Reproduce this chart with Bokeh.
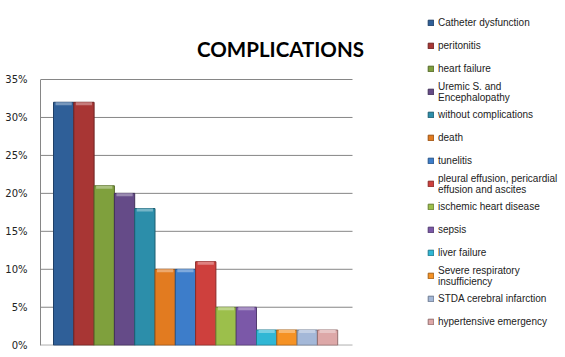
from bokeh.plotting import figure
from bokeh.models import (ColumnDataSource, Range1d, Legend, LegendItem, Label,
                          NumeralTickFormatter, FixedTicker)
from bokeh.embed import file_html
from bokeh.resources import INLINE

# ---- data ----
categories = [
    "Catheter dysfunction",
    "peritonitis",
    "heart failure",
    "Uremic S. and\nEncephalopathy",
    "without complications",
    "death",
    "tunelitis",
    "pleural effusion, pericardial\neffusion and ascites",
    "ischemic heart disease",
    "sepsis",
    "liver failure",
    "Severe respiratory\ninsufficiency",
    "STDA cerebral infarction",
    "hypertensive emergency",
]
values_pct = [32, 32, 21, 20, 18, 10, 10, 11, 5, 5, 2, 2, 2, 2]
y_tick_pct = [0, 5, 10, 15, 20, 25, 30, 35]
chart_title = "COMPLICATIONS"

# ---- styles ----
fills = ["#2F5F98", "#A83634", "#7FA03D", "#654B88", "#2C8EAA", "#E27B20",
         "#3D7DCA", "#CE403D", "#9CBF4B", "#7B58A8", "#30B7D5", "#F59224",
         "#A4B8D8", "#DDA8A8"]
edges = ["#1F3F66", "#6E2322", "#55692A", "#43325A", "#1D5E71", "#985215",
         "#285489", "#8A2A28", "#687F32", "#523B70", "#207A8E", "#A46118",
         "#6E7B91", "#946F6F"]


def lighten(hex_color, k=0.35):
    h = hex_color.lstrip("#")
    rgb = [int(h[i:i + 2], 16) for i in (0, 2, 4)]
    return "#" + "".join(f"{int(c + (255 - c) * k):02X}" for c in rgb)


highlights = [lighten(c) for c in fills]

n = len(categories)
ticks = [t / 100 for t in y_tick_pct]

# layout geometry (pixels)
W, H = 565, 357
left, bottom = 40, 12
frame_w, frame_h = W - left, H - bottom
pitch = 20.3                     # px per bar
x_start = -0.5 - 13 / pitch      # 13 px gap before first bar
x_end = x_start + frame_w / pitch
plot_right = x_start + 312 / pitch   # where the plot area ends
y_top_px = 79                    # 35 % line
y_start = -0.0004
y_end = y_start + (max(ticks) - y_start) * frame_h / (frame_h - y_top_px)
px_y = (y_end - y_start) / frame_h   # data units per pixel

vals = [v / 100 for v in values_pct]
src = ColumnDataSource(dict(
    x=list(range(n)),
    cat=categories,
    val=vals,
    cap_bottom=[v - 3 * px_y for v in vals],
    fill=fills,
    edge=edges,
    hi=highlights,
))

p = figure(width=W, height=H,
           x_range=Range1d(x_start, x_end),
           y_range=Range1d(y_start, y_end),
           output_backend="svg", toolbar_location=None,
           min_border_left=left, min_border_right=0,
           min_border_top=0, min_border_bottom=bottom)

p.xaxis.visible = False
p.grid.grid_line_color = None
p.outline_line_color = None

# horizontal gridlines limited to the plot area
p.segment(x0=[x_start] * len(ticks), x1=[plot_right] * len(ticks),
          y0=ticks, y1=ticks, line_color="#868686", line_width=1)

r = p.vbar(x="x", top="val", width=1.0, source=src,
           fill_color="fill", line_color="edge", line_width=1)
# light bevel on the top of every bar
p.vbar(x="x", top="val", bottom="cap_bottom", width=0.8, source=src,
       fill_color="hi", line_color=None)

ya = p.yaxis[0]
ya.bounds = (0, max(ticks))
ya.ticker = FixedTicker(ticks=ticks)
ya.formatter = NumeralTickFormatter(format="0%")
ya.axis_line_color = "#868686"
ya.major_tick_line_color = None
ya.minor_tick_line_color = None
ya.major_tick_out = 0
ya.major_tick_in = 0
ya.major_label_standoff = 13
ya.major_label_text_font = "DejaVu Sans"
ya.major_label_text_font_size = "10px"
ya.major_label_text_color = "#222222"

p.add_layout(Label(x=280 - left, y=frame_h - 48.5, x_units="screen", y_units="screen",
                   text=chart_title, text_align="center",
                   text_baseline="alphabetic", text_font="Lato",
                   text_font_style="bold", text_font_size="20.5px",
                   text_color="#000000"))

items = [LegendItem(label=c, renderers=[r], index=i) for i, c in enumerate(categories)]
legend = Legend(items=items, location=(427 - left, 12),
                glyph_width=7, glyph_height=7, label_height=23, spacing=0,
                label_standoff=4, padding=0, margin=0,
                label_text_font="Liberation Sans", label_text_font_size="10px",
                label_text_line_height=1.1, label_text_color="#222222",
                border_line_color=None, background_fill_alpha=0)
p.add_layout(legend)

open("out.html", "w").write(file_html(p, INLINE))
